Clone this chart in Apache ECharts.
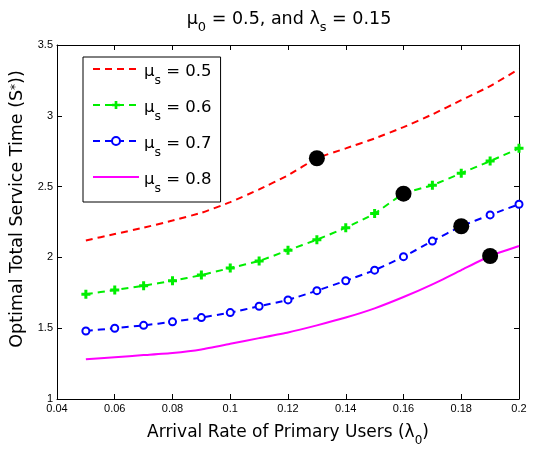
<!DOCTYPE html>
<html><head><meta charset="utf-8">
<script src="https://cdn.jsdelivr.net/npm/echarts@6/dist/echarts.min.js"></script>
<style>html,body{margin:0;padding:0;background:#fff}#c{width:534px;height:452px}</style>
</head><body><div id="c"></div>
<script>
var lambda0 = [0.05,0.06,0.07,0.08,0.09,0.10,0.11,0.12,0.13,0.14,0.15,0.16,0.17,0.18,0.19,0.20];
var mu05 = [2.12,2.165,2.21,2.26,2.315,2.39,2.48,2.58,2.70,2.77,2.84,2.92,3.01,3.11,3.21,3.33];
var mu06 = [1.74,1.77,1.80,1.835,1.875,1.925,1.975,2.05,2.125,2.21,2.31,2.45,2.51,2.595,2.68,2.77];
var mu07 = [1.48,1.50,1.52,1.545,1.575,1.61,1.655,1.70,1.765,1.835,1.91,2.005,2.115,2.22,2.30,2.375];
var mu08 = [1.28,1.295,1.31,1.325,1.35,1.39,1.43,1.47,1.52,1.575,1.64,1.72,1.81,1.91,2.01,2.08];
var optX = [0.13,0.16,0.18,0.19];
var optY = [2.70,2.45,2.22,2.01];
var xTicks = [0.04,0.06,0.08,0.1,0.12,0.14,0.16,0.18,0.2];
var yTicks = [1,1.5,2,2.5,3,3.5];
var seriesNames = ['μs = 0.5','μs = 0.6','μs = 0.7','μs = 0.8'];

function pairs(xs, ys){ return xs.map(function(x,i){return [x, ys[i]];}); }
var font = 'Liberation Sans, Arial, sans-serif';
var wide = 'DejaVu Sans, sans-serif';
var plus = 'path://M-1,-3L1,-3L1,-1L3,-1L3,1L1,1L1,3L-1,3L-1,1L-3,1L-3,-1L-1,-1Z';

var chart = echarts.init(document.getElementById('c'), null, {renderer:'canvas'});
var axisCommon = {
  axisLine:{show:true, onZero:false, lineStyle:{color:'#000', width:1}},
  axisTick:{show:true, inside:true, length:5, lineStyle:{color:'#000'}},
  splitLine:{show:false}
};
chart.setOption({
  animation:false,
  backgroundColor:'#fff',
  title:{
    text:'{a|μ}{s|0}{a| = 0.5, and λ}{s|s}{a| = 0.15}',
    left:284, top:-1, textAlign:'center',
    textStyle:{fontWeight:'normal', rich:{
      a:{fontFamily:wide, fontSize:17.5, fontWeight:'normal', color:'#000', lineHeight:24, verticalAlign:'bottom'},
      s:{fontFamily:wide, fontSize:13, fontWeight:'normal', color:'#000', lineHeight:24, verticalAlign:'bottom', padding:[0,0,-6,0]}
    }}
  },
  grid:{left:57, right:15, top:45, bottom:49, containLabel:false},
  legend:{
    orient:'vertical', left:83, top:57, padding:[6,9,7,9], itemGap:12,
    itemWidth:46, itemHeight:10, borderColor:'#000', borderWidth:1, backgroundColor:'#fff',
    data:[
      {name:seriesNames[0], itemStyle:{opacity:0}},
      {name:seriesNames[1]},
      {name:seriesNames[2]},
      {name:seriesNames[3], itemStyle:{opacity:0}}
    ],
    formatter:function(n){ var p=n.split('s'); return '{a|'+p[0]+'}{s|s}{a|'+p[1]+'}'; },
    textStyle:{rich:{
      a:{fontFamily:wide, fontSize:16.5, color:'#000', lineHeight:22, verticalAlign:'bottom'},
      s:{fontFamily:wide, fontSize:12.5, color:'#000', lineHeight:22, verticalAlign:'bottom', padding:[0,0,-7,0]}
    }}
  },
  xAxis:[
    Object.assign({}, axisCommon, {type:'value', min:0.04, max:0.2, interval:0.02, position:'bottom',
      axisLabel:{color:'#000', fontFamily:font, fontSize:11, margin:4,
        formatter:function(v){ return String(parseFloat(v.toFixed(2))); }},
      name:'{a|Arrival Rate of Primary Users (λ}{s|0}{a|)}', nameLocation:'middle', nameGap:20,
      nameTextStyle:{rich:{
        a:{fontFamily:wide, fontSize:17, color:'#000', lineHeight:22, verticalAlign:'bottom'},
        s:{fontFamily:wide, fontSize:12, color:'#000', lineHeight:22, verticalAlign:'bottom', padding:[0,0,-6,0]}
      }}}),
    Object.assign({}, axisCommon, {type:'value', min:0.04, max:0.2, interval:0.02, position:'top',
      axisLabel:{show:false}})
  ],
  yAxis:[
    Object.assign({}, axisCommon, {type:'value', min:1, max:3.5, interval:0.5, position:'left',
      axisLabel:{color:'#000', fontFamily:font, fontSize:11, margin:4},
      name:'{a|Optimal Total Service Time (S}{p|*}{a|))}', nameLocation:'middle', nameGap:29,
      nameTextStyle:{padding:[0,0,0,26], rich:{
        a:{fontFamily:wide, fontSize:17.5, color:'#000', lineHeight:22, verticalAlign:'bottom'},
        p:{fontFamily:wide, fontSize:12, color:'#000', lineHeight:22, verticalAlign:'bottom', padding:[0,0,5,0]}
      }}}),
    Object.assign({}, axisCommon, {type:'value', min:1, max:3.5, interval:0.5, position:'right',
      axisLabel:{show:false}})
  ],
  series:[
    {name:seriesNames[0], type:'line', data:pairs(lambda0, mu05), symbol:'none', smooth:0.15,
      lineStyle:{color:'#ff0000', width:2, type:[7,5]}, itemStyle:{color:'#ff0000'}},
    {name:seriesNames[1], type:'line', data:pairs(lambda0, mu06), symbol:plus, symbolSize:9, smooth:0.15,
      lineStyle:{color:'#00ee00', width:2, type:[7,5]}, itemStyle:{color:'#00ee00', borderWidth:0}},
    {name:seriesNames[2], type:'line', data:pairs(lambda0, mu07), symbol:'emptyCircle', symbolSize:7, smooth:0.15,
      lineStyle:{color:'#0000ff', width:2, type:[7,5]}, itemStyle:{color:'#0000ff', borderWidth:2}},
    {name:seriesNames[3], type:'line', data:pairs(lambda0, mu08), symbol:'none', smooth:0.15,
      lineStyle:{color:'#ff00ff', width:2}, itemStyle:{color:'#ff00ff'}},
    {name:'optimal', type:'scatter', data:pairs(optX, optY), symbol:'circle', symbolSize:16, z:5,
      itemStyle:{color:'#000', opacity:1}}
  ]
});
</script></body></html>
